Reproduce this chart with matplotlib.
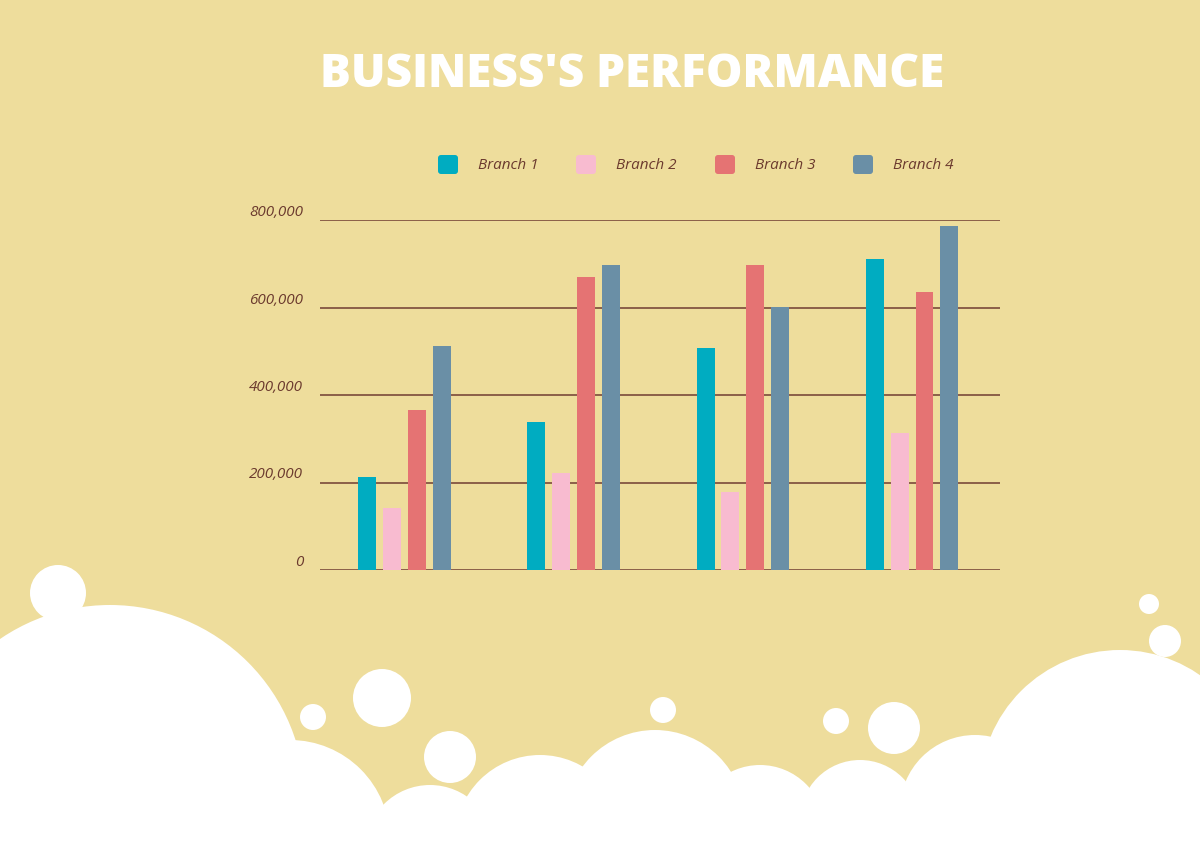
import matplotlib.pyplot as plt
from matplotlib.patches import Circle, Rectangle, FancyBboxPatch
from matplotlib.ticker import FuncFormatter

groups = ["Q1", "Q2", "Q3", "Q4"]
branches = ["Branch 1", "Branch 2", "Branch 3", "Branch 4"]
colors = ["#00acc1", "#f8bbd0", "#e57373", "#6a8fa6"]
values = [
    [212000, 338000, 507000, 711000],
    [142000, 222000, 178000, 313000],
    [366000, 670000, 697000, 635000],
    [512000, 697000, 601000, 786000],
]
yticks = [0, 200000, 400000, 600000, 800000]

BG = "#eedd9c"
BROWN = "#6b3a2e"

fig = plt.figure(figsize=(12, 8.5), dpi=100, facecolor=BG)

# decorative clouds, pixel coordinates
deco = fig.add_axes([0, 0, 1, 1])
deco.set_xlim(0, 1200)
deco.set_ylim(850, 0)
deco.axis("off")
blobs = [(110, 800, 195), (290, 840, 100), (430, 850, 65), (540, 840, 85),
         (655, 820, 90), (760, 830, 65), (860, 820, 60), (975, 810, 75),
         (1120, 790, 140), (58, 593, 28), (382, 698, 29), (313, 717, 13),
         (450, 757, 26), (663, 710, 13), (836, 721, 13), (894, 728, 26),
         (1149, 604, 10), (1165, 641, 16)]
for x, y, r in blobs:
    deco.add_patch(Circle((x, y), r, color="white", lw=0))
deco.add_patch(Rectangle((0, 810), 1200, 40, color="white", lw=0))

ax = fig.add_axes([320 / 1200, 1 - 570 / 850, 680 / 1200, 350 / 850])
ax.set_facecolor("none")
w = 0.106
step = 0.147
for i, (name, col) in enumerate(zip(branches, colors)):
    xs = [g + (i - 1.5) * step for g in range(len(groups))]
    ax.bar(xs, values[i], width=w, color=col, zorder=3)

ax.set_xlim(-0.5, 3.52)
ax.set_ylim(0, 800000)
ax.set_yticks(yticks)
ax.yaxis.set_major_formatter(FuncFormatter(lambda v, p: f"{int(v):,}"))
ax.grid(axis="y", color="#7a4a3a", lw=1.2, zorder=0)
ax.set_xticks([])
for s in ax.spines.values():
    s.set_visible(False)
ax.tick_params(axis="y", length=0, pad=12, labelsize=11, labelcolor=BROWN)
for t in ax.get_yticklabels():
    t.set_fontstyle("italic")
    t.set_fontfamily("Open Sans")
    t.set_verticalalignment("bottom")

fig.text(0.527, 0.912, "BUSINESS'S PERFORMANCE", color="white", fontsize=33,
         fontweight="heavy", fontfamily="Open Sans", ha="center", va="center")

# legend
leg_x = [448, 586, 725, 863]
for lx, name, col in zip(leg_x, branches, colors):
    deco.add_patch(FancyBboxPatch((lx - 10, 155), 20, 19, boxstyle="round,pad=0,rounding_size=3",
                                  color=col, lw=0))
    deco.text(lx + 30, 165, name, color=BROWN, fontsize=11, fontstyle="italic",
              fontfamily="Open Sans", va="center")

fig.savefig("out.png", facecolor=BG)
